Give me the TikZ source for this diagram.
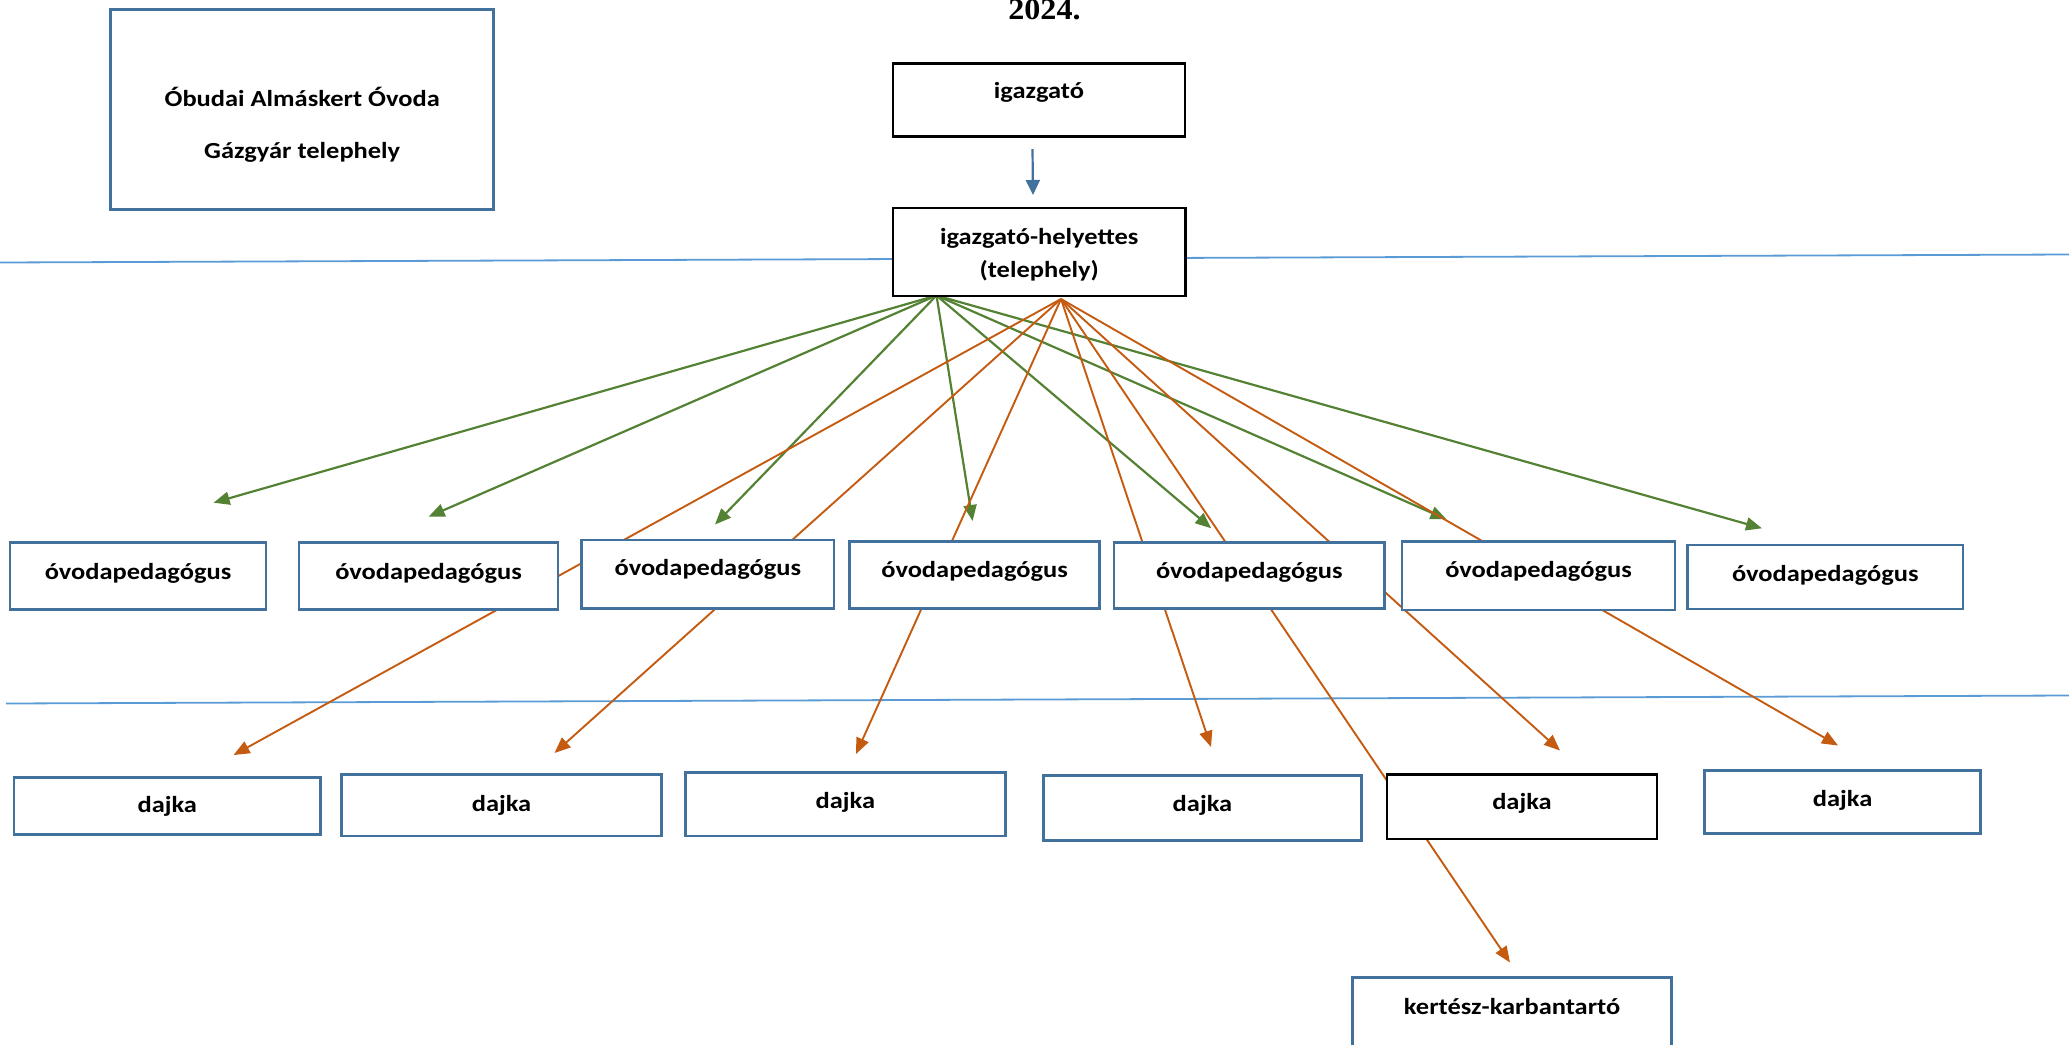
\documentclass[tikz,border=0pt]{standalone}
\usepackage{fontspec}
\setmainfont{Carlito}
\newfontfamily\ttlfont{Liberation Serif}
\usepackage{graphicx}
\usetikzlibrary{arrows.meta}
\definecolor{boxblue}{RGB}{65,113,156}
\definecolor{lineblue}{RGB}{91,155,213}
\definecolor{grn}{RGB}{84,130,53}
\definecolor{org}{RGB}{197,90,17}
\newcommand{\sx}[1]{\scalebox{1.15}[1]{#1}}
\begin{document}
\begin{tikzpicture}[x=0.5pt,y=-0.5pt,
  bx/.style={draw=boxblue, line width=1.4pt, fill=white, inner sep=0pt, outer sep=0pt},
  bk/.style={draw=black, line width=1.3pt, fill=white, inner sep=0pt, outer sep=0pt},
  txt/.style={font=\bfseries\fontsize{11.5}{14}\selectfont, inner sep=0pt},
  ttl/.style={font=\ttlfont\bfseries\fontsize{15}{18}\selectfont, inner sep=0pt},
  hline/.style={draw=lineblue, line width=0.9pt},
  garr/.style={draw=grn, line width=1.1pt, -{Triangle[length=8pt,width=6.5pt]}},
  oarr/.style={draw=org, line width=0.95pt, -{Triangle[length=8pt,width=6.5pt]}},
  barr/.style={draw=boxblue, line width=1.1pt, -{Triangle[length=7.5pt,width=7pt]}},
]
\useasboundingbox (0,0) rectangle (2069,1045);
\clip (0,0) rectangle (2069,1045);

% title
\node[ttl, anchor=base] (title) at (1044.5,19) {\scalebox{1.07}[1]{2024.}};

% horizontal separator lines
\coordinate (h1a) at (0,262.5);
\coordinate (h1b) at (2069,254.5);
\coordinate (h2a) at (6,703.5);
\coordinate (h2b) at (2069,695.5);
\draw[hline] (h1a) -- (h1b);
\draw[hline] (h2a) -- (h2b);

% sources and arrow tips
\coordinate (gsrc) at (936.5,295.5);
\coordinate (osrc) at (1061,299);
\coordinate (ba1) at (1032.5,149);
\coordinate (ba2) at (1033,195);

\coordinate (g1) at (213.6,502.7);
\coordinate (g2) at (428.6,516.7);
\coordinate (g3) at (715,524.5);
\coordinate (g4) at (972.6,521);
\coordinate (g5) at (1211.3,528.3);
\coordinate (g6) at (1446.5,519.3);
\coordinate (g7) at (1762,528.3);

\coordinate (o1) at (233.6,755);
\coordinate (o2) at (554.5,753);
\coordinate (o3) at (856,754);
\coordinate (o4) at (1211,747);
\coordinate (o5) at (1560,750.5);
\coordinate (o6) at (1838,745.5);
\coordinate (o7) at (1510,962.5);

\draw[barr] (ba1) -- (ba2);
\foreach \i in {1,...,7} { \draw[garr] (gsrc) -- (g\i); }
\foreach \i in {1,...,7} { \draw[oarr] (osrc) -- (o\i); }

% top boxes
\node[bx, minimum width=191.35pt, minimum height=100.3pt,
  label={[name=obt1, txt, yshift=6.25pt]center:\sx{Óbudai Almáskert Óvoda}},
  label={[name=obt2, txt, yshift=-21.25pt]center:\sx{Gázgyár telephely}}]
  (obudai) at (302.2,109.5) {};
\node[bk, minimum width=146pt, minimum height=36.7pt,
  label={[name=igt, txt, yshift=3.75pt]center:\sx{igazgató}}]
  (igazgato) at (1039,100) {};
\node[bk, minimum width=146.2pt, minimum height=44pt,
  label={[name=helt1, txt, yshift=6.6pt]center:\sx{igazgató-helyettes}},
  label={[name=helt2, txt, yshift=-9.4pt]center:\sx{(telephely)}}]
  (hel) at (1039.2,252) {};

% óvodapedagógus row
\node[bx, minimum width=128pt, minimum height=33.3pt,
  label={[name=ov1t, txt, yshift=1.5pt]center:\sx{óvodapedagógus}}] (ov1) at (138,576) {};
\node[bx, minimum width=129.5pt, minimum height=33.3pt,
  label={[name=ov2t, txt, yshift=1.5pt]center:\sx{óvodapedagógus}}] (ov2) at (428.5,576) {};
\node[bx, minimum width=126.2pt, minimum height=34.35pt,
  label={[name=ov3t, txt, yshift=2.4pt]center:\sx{óvodapedagógus}}] (ov3) at (707.8,574.35) {};
\node[bx, minimum width=124.85pt, minimum height=33.5pt,
  label={[name=ov4t, txt, yshift=1.75pt]center:\sx{óvodapedagógus}}] (ov4) at (974.55,575.2) {};
\node[bx, minimum width=135.25pt, minimum height=32.9pt,
  label={[name=ov5t, txt, yshift=1.45pt]center:\sx{óvodapedagógus}}] (ov5) at (1249.25,575.6) {};
\node[bx, minimum width=136.5pt, minimum height=34.15pt,
  label={[name=ov6t, txt, yshift=2.1pt]center:\sx{óvodapedagógus}}] (ov6) at (1538.5,575.85) {};
\node[bx, minimum width=137.75pt, minimum height=32pt,
  label={[name=ov7t, txt, yshift=1pt]center:\sx{óvodapedagógus}}] (ov7) at (1825.25,577) {};

% dajka row
\node[bx, minimum width=153.3pt, minimum height=28.3pt,
  label={[name=d1t, txt, yshift=-0.35pt]center:\sx{dajka}}] (d1) at (167.3,806) {};
\node[bx, minimum width=159.95pt, minimum height=30.65pt,
  label={[name=d2t, txt, yshift=0.2pt]center:\sx{dajka}}] (d2) at (501.55,805.35) {};
\node[bx, minimum width=159.95pt, minimum height=31.65pt,
  label={[name=d3t, txt, yshift=0.9pt]center:\sx{dajka}}] (d3) at (845.35,804.35) {};
\node[bx, minimum width=159.15pt, minimum height=32.5pt,
  label={[name=d4t, txt, yshift=1.6pt]center:\sx{dajka}}] (d4) at (1202.45,808.2) {};
\node[bk, minimum width=135pt, minimum height=32.35pt,
  label={[name=d5t, txt, yshift=1.8pt]center:\sx{dajka}}] (d5) at (1522,806.65) {};
\node[bx, minimum width=138.05pt, minimum height=31.3pt,
  label={[name=d6t, txt, yshift=0.6pt]center:\sx{dajka}}] (d6) at (1842.65,802) {};

% kertész
\node[bx, minimum width=159.65pt, minimum height=46.15pt,
  label={[name=kt, txt, yshift=8.6pt]center:\sx{kertész-karbantartó}}] (kertesz) at (1512.15,1023.85) {};
\end{tikzpicture}
\end{document}
